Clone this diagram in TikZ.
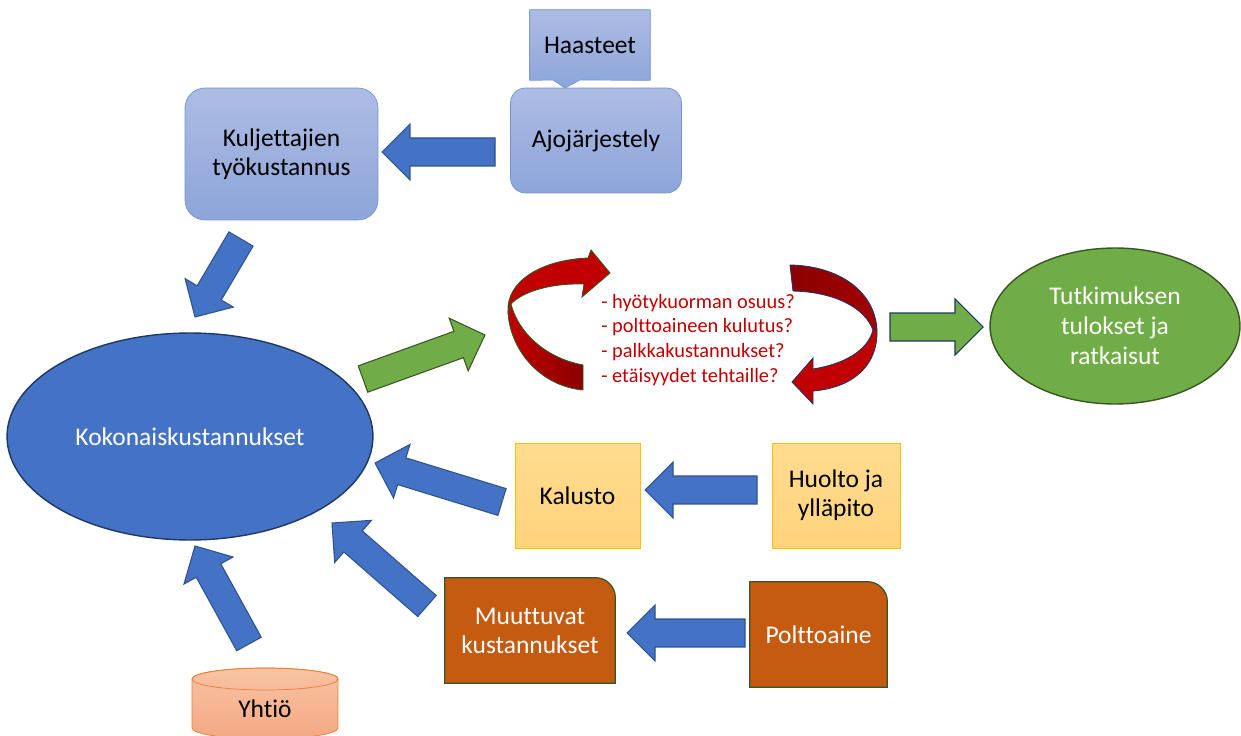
\documentclass[tikz,border=0pt]{standalone}
\usepackage{fontspec}
\setmainfont{Carlito}[Ligatures=NoCommon]
\usepackage{tikz}
\usetikzlibrary{shapes.geometric,calc,backgrounds}

\definecolor{boxtop}{HTML}{ADBCE3}
\definecolor{boxbot}{HTML}{8DA5DA}
\definecolor{boxline}{HTML}{7393D6}
\definecolor{accblue}{HTML}{4472C4}
\definecolor{arrline}{HTML}{2F528F}
\definecolor{navy}{HTML}{1F3864}
\definecolor{accgreen}{HTML}{70AD47}
\definecolor{darkgreen}{HTML}{385723}
\definecolor{rust}{HTML}{C55A11}
\definecolor{goldtop}{HTML}{FFDC90}
\definecolor{goldbot}{HTML}{FFD37B}
\definecolor{goldline}{HTML}{FFC000}
\definecolor{peachtop}{HTML}{F8C3A3}
\definecolor{peachbot}{HTML}{F4A883}
\definecolor{peachline}{HTML}{ED7D31}
\definecolor{qred}{HTML}{C00000}
\definecolor{qdark}{HTML}{8B0000}

% block arrow from tail #2 to tip #3
\newcommand{\blockarrow}[3][]{%
  \coordinate (bh) at ($(#3)!0.56cm!(#2)$);
  \draw[#1] ($(#2)!0.28cm!90:(#3)$) -- ($(bh)!0.28cm!90:(#3)$)
    -- ($(bh)!0.56cm!90:(#3)$) -- (#3) -- ($(bh)!0.56cm!-90:(#3)$)
    -- ($(bh)!0.28cm!-90:(#3)$) -- ($(#2)!0.28cm!-90:(#3)$) -- cycle;}

\begin{document}
\begin{tikzpicture}[x=0.02cm,y=-0.02cm,
  txt/.style={font=\fontsize{14.5}{16.5}\selectfont,align=center,inner sep=0pt},
  bluebox/.style={txt,draw=boxline,top color=boxtop,bottom color=boxbot},
  goldbox/.style={txt,draw=goldline,top color=goldtop,bottom color=goldbot,minimum height=2.1cm},
  rustshape/.style={draw=darkgreen,fill=rust,line width=0.7pt},
  bluearrow/.style={draw=arrline,fill=accblue,line width=0.6pt},
  greenarrow/.style={draw=navy,fill=accgreen,line width=0.6pt},
  redarrow/.style={line width=0.5pt}]
\clip (0,0) rectangle (1241,736);
\useasboundingbox (0,0) rectangle (1241,736);

%top boxes
  \node[bluebox,rounded corners=0.4cm,minimum width=3.86cm,minimum height=2.64cm] (kulj) at (281.5,154) {Kuljettajien\\työkustannus};
  \node[bluebox,rounded corners=0.3cm,minimum width=3.42cm,minimum height=2.1cm] (ajo) at (596,140.5) {Ajojärjestely};
  \node[txt,minimum width=2.4cm,minimum height=1.4cm] (haas) at (590,45) {Haasteet};
  \begin{scope}[on background layer]
    \draw[draw=boxline,top color=boxtop,bottom color=boxbot]
      (haas.south west) -- (haas.north west) -- (haas.north east) -- (haas.south east)
      -- (580,80) -- (565,88) -- (553,80) -- cycle;
  \end{scope}

%main ellipse
  \node[ellipse,draw=navy,line width=0.8pt,fill=accblue,text=white,txt,
    minimum width=7.32cm,minimum height=4.14cm] (kok) at (190,436.5) {Kokonaiskustannukset};

%result
  \node[ellipse,draw=darkgreen,line width=0.8pt,fill=accgreen,text=white,
    font=\fontsize{14.5}{17}\selectfont,align=center,inner sep=0pt,
    minimum width=5cm,minimum height=3.12cm] (tulos) at (1115,326) {Tutkimuksen\\tulokset ja\\ratkaisut};

%questions
  \node[anchor=west,align=left,text=qred,inner sep=0pt,
    font=\fontsize{11.6}{14.2}\selectfont] (kys) at (601,340)
    {- hyötykuorman osuus?\\- polttoaineen kulutus?\\- palkkakustannukset?\\- etäisyydet tehtaille?};

%gold boxes
  \node[goldbox,minimum width=2.5cm] (kal) at (577.5,495.5) {Kalusto};
  \node[goldbox,minimum width=2.56cm] (huol) at (836,495.5) {Huolto ja\\ylläpito};

%rust boxes
  \node[txt,text=white,minimum width=3.4cm,minimum height=2.1cm] (muut) at (530,630.5) {Muuttuvat\\kustannukset};
  \node[txt,text=white,minimum width=2.74cm,minimum height=2.1cm] (polt) at (818.5,634.5) {Polttoaine};
  \begin{scope}[on background layer]
    \draw[rustshape] (muut.south west) -- (muut.north west) [rounded corners=0.4cm]
      -- (muut.north east) [sharp corners] -- (muut.south east) -- cycle;
    \draw[rustshape] (polt.south west) -- (polt.north west) [rounded corners=0.4cm]
      -- (polt.north east) [sharp corners] -- (polt.south east) -- cycle;
  \end{scope}

%company
  \draw[draw=peachline,top color=peachtop,bottom color=peachbot]
    (192,679) -- (192,728) arc[start angle=180,end angle=360,x radius=1.46cm,y radius=0.22cm]
    -- (338,679) arc[start angle=0,end angle=180,x radius=1.46cm,y radius=0.22cm] -- cycle;
  \draw[draw=peachline] (265,679) ellipse[x radius=1.46cm,y radius=0.22cm];
  \node[txt] (yht) at (265,709) {Yhtiö};

%arrow ends
  \coordinate (a1) at (495,152);   \coordinate (b1) at (382,152);
  \coordinate (a2) at (241,239);   \coordinate (b2) at (195,317);
  \coordinate (a3) at (363,379);   \coordinate (b3) at (485,335);
  \coordinate (a4) at (890,327);   \coordinate (b4) at (983,327);
  \coordinate (a5) at (757,490);   \coordinate (b5) at (645,490);
  \coordinate (a6) at (502,502);   \coordinate (b6) at (375,463);
  \coordinate (a7) at (745,633);   \coordinate (b7) at (627,633);
  \coordinate (a8) at (427,606);   \coordinate (b8) at (332,523);
  \coordinate (a9) at (249,644);   \coordinate (b9) at (195,546);

%block arrows
  \blockarrow[bluearrow]{a1}{b1}
  \blockarrow[bluearrow]{a2}{b2}
  \blockarrow[greenarrow,draw=darkgreen]{a3}{b3}
  \blockarrow[greenarrow]{a4}{b4}
  \blockarrow[bluearrow]{a5}{b5}
  \blockarrow[bluearrow]{a6}{b6}
  \blockarrow[bluearrow]{a7}{b7}
  \blockarrow[bluearrow]{a8}{b8}
  \blockarrow[bluearrow]{a9}{b9}

%cycle arrows
  \draw[redarrow,draw=darkgreen,left color=qred,right color=qdark]
    (583,365) .. controls (545,358) and (518,332) .. (511,304) -- (508,312)
    .. controls (510,350) and (540,386) .. (583,390) -- cycle;
  \draw[redarrow,draw=darkgreen,fill=qred]
    (508,312) .. controls (506,282) and (540,260) .. (588,258) -- (591,250) -- (610,273)
    -- (582,297) -- (584,284) .. controls (550,283) and (522,292) .. (511,304) -- cycle;
  \draw[redarrow,draw=navy,left color=qdark,right color=qred!85!black]
    (790,265) .. controls (840,266) and (875,292) .. (877,330) -- (873,330)
    .. controls (865,308) and (835,292) .. (793,291) -- cycle;
  \draw[redarrow,draw=navy,fill=qred]
    (877,330) .. controls (878,368) and (850,388) .. (813,391) -- (813,404) -- (792,382)
    -- (813,358) -- (813,369) .. controls (845,364) and (868,350) .. (873,330) -- cycle;
\end{tikzpicture}
\end{document}
